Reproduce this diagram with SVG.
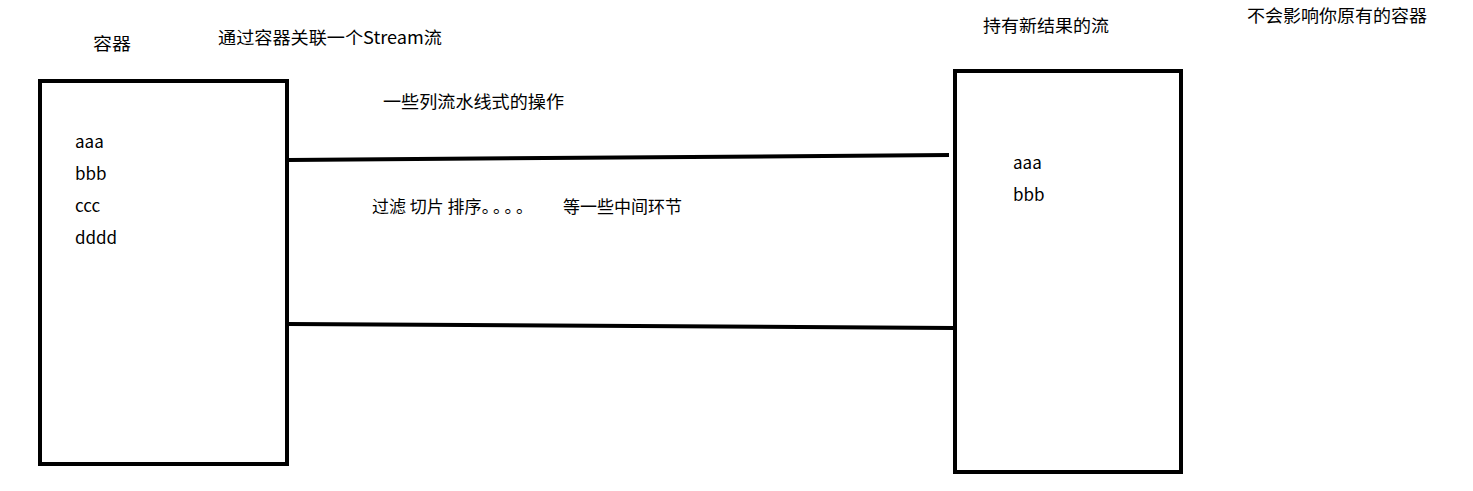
<svg xmlns="http://www.w3.org/2000/svg" width="1473" height="491" viewBox="0 0 1473 491">
<style>
text{font-family:"Noto Sans CJK SC","Noto Sans",sans-serif;font-size:17px;fill:#000}
.box{fill:#fff;stroke:#000;stroke-width:4}
.ln{stroke:#000;stroke-width:4;fill:none}
</style>
<rect width="1473" height="491" fill="#fff"/>
<text x="93" y="50" textLength="38" lengthAdjust="spacingAndGlyphs">容器</text>
<text x="218" y="44" textLength="224" lengthAdjust="spacingAndGlyphs">通过容器关联一个Stream流</text>
<text x="383" y="108" textLength="181" lengthAdjust="spacingAndGlyphs">一些列流水线式的操作</text>
<text x="372" y="213">过滤 切片 排序<tspan letter-spacing="3">。。。。</tspan><tspan x="563">等一些中间环节</tspan></text>
<text x="983" y="32" textLength="126" lengthAdjust="spacingAndGlyphs">持有新结果的流</text>
<text x="1247" y="22" textLength="180" lengthAdjust="spacingAndGlyphs">不会影响你原有的容器</text>
<g id="container">
<rect class="box" x="40" y="81" width="247" height="383"/>
<text x="75" y="148">aaa</text>
<text x="75" y="180">bbb</text>
<text x="75" y="212">ccc</text>
<text x="75" y="244">dddd</text>
</g>
<g id="result">
<rect class="box" x="955" y="71" width="226" height="401"/>
<text x="1013" y="169">aaa</text>
<text x="1013" y="201">bbb</text>
</g>
<g id="connectors">
<path class="ln" d="M289 160 L949 155"/>
<path class="ln" d="M289 324 L953 328"/>
</g>
</svg>
